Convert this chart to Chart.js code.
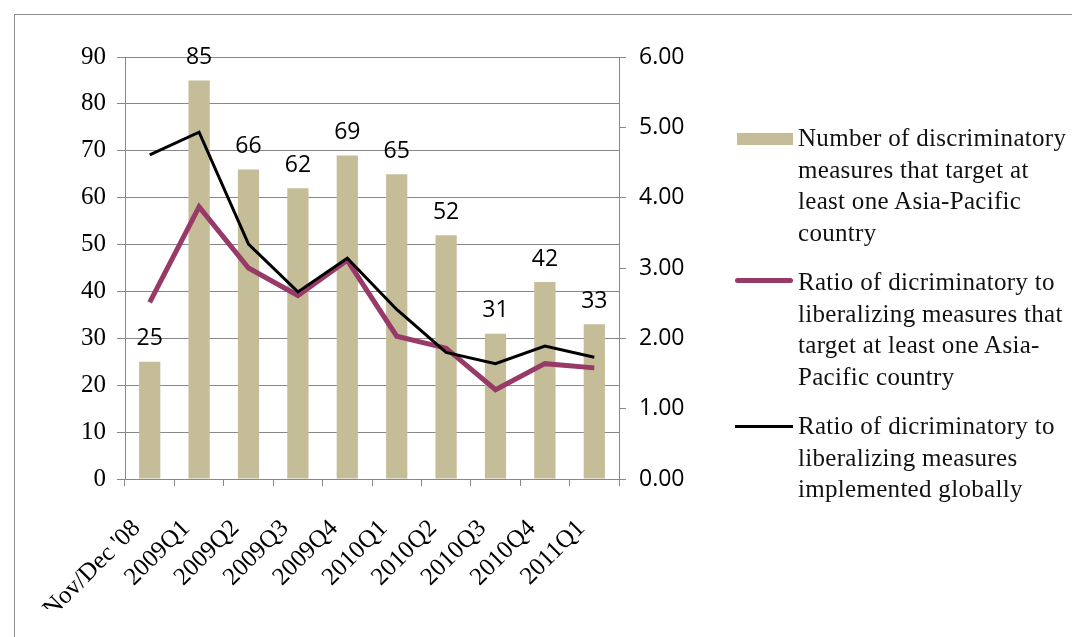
<!DOCTYPE html>
<html lang="en">
<head>
    <meta charset="UTF-8">
    <title>Discriminatory measures</title>
    <style>
        html, body { margin: 0; padding: 0; background: #fff; overflow: hidden; }
        #wrap { position: relative; width: 1072px; height: 637px; }
        #frame { position: absolute; left: 14px; top: 14px; width: 1100px; height: 700px; border: 1px solid #8c8c8c; }
        canvas { position: absolute; left: 0; top: 0; }
        .legend { position: absolute; left: 735px; top: 0; font-family: "Liberation Serif", "Times New Roman", serif; font-size: 25px; color: #111; }
        .entry { position: absolute; left: 0; width: 340px; }
        .entry .txt { position: absolute; left: 63px; line-height: 31.7px; white-space: nowrap; letter-spacing: 0.3px; }
        .entry .mark { position: absolute; left: 0; width: 58px; }
    </style>
    <script src="https://cdn.jsdelivr.net/npm/chart.js"></script>
</head>
<body>
<div id="wrap">
    <div id="frame"></div>
    <canvas id="chart" width="1072" height="637"></canvas>
    <div class="legend">
        <div class="entry" style="top:122px">
            <div class="mark" style="top:11px;height:12px;left:2px;width:56px;background:#C4BD97"></div>
            <div class="txt">Number of discriminatory<br>measures that target at<br>least one Asia-Pacific<br>country</div>
        </div>
        <div class="entry" style="top:266px">
            <div class="mark" style="top:12px;height:5px;border-radius:3px;background:#983A68"></div>
            <div class="txt">Ratio of dicriminatory to<br>liberalizing measures that<br>target at least one Asia-<br>Pacific country</div>
        </div>
        <div class="entry" style="top:410px">
            <div class="mark" style="top:15px;height:3px;background:#000"></div>
            <div class="txt">Ratio of dicriminatory to<br>liberalizing measures<br>implemented globally</div>
        </div>
    </div>
</div>
<script>
    const categories = ["Nov/Dec '08", "2009Q1", "2009Q2", "2009Q3", "2009Q4", "2010Q1", "2010Q2", "2010Q3", "2010Q4", "2011Q1"];
    const measuresCount = [25, 85, 66, 62, 69, 65, 52, 31, 42, 33];
    const ratioAsiaPacific = [2.51, 3.87, 3.00, 2.61, 3.11, 2.03, 1.86, 1.27, 1.64, 1.58];
    const ratioGlobal = [4.61, 4.93, 3.34, 2.66, 3.14, 2.41, 1.80, 1.64, 1.89, 1.73];

    const gridGrey = '#888888';

    // data labels above the bars
    const barLabels = {
        id: 'barLabels',
        afterDatasetsDraw(chart) {
            const ctx = chart.ctx;
            const meta = chart.getDatasetMeta(0);
            ctx.save();
            ctx.font = '23px "Open Sans", sans-serif';
            ctx.fillStyle = '#000';
            ctx.textAlign = 'center';
            ctx.textBaseline = 'middle';
            meta.data.forEach((bar, i) => {
                ctx.fillText(String(measuresCount[i]), bar.x, bar.y - 23);
            });
            ctx.restore();
        }
    };

    new Chart(document.getElementById('chart').getContext('2d'), {
        type: 'bar',
        data: {
            labels: categories,
            datasets: [
                {
                    type: 'bar',
                    label: 'Number of discriminatory measures that target at least one Asia-Pacific country',
                    data: measuresCount,
                    backgroundColor: '#C4BD97',
                    barPercentage: 0.43,
                    categoryPercentage: 1,
                    yAxisID: 'y',
                    order: 3
                },
                {
                    type: 'line',
                    label: 'Ratio of dicriminatory to liberalizing measures that target at least one Asia-Pacific country',
                    data: ratioAsiaPacific,
                    borderColor: '#983A68',
                    borderWidth: 5,
                    pointRadius: 0,
                    tension: 0,
                    fill: false,
                    yAxisID: 'y1',
                    order: 2
                },
                {
                    type: 'line',
                    label: 'Ratio of dicriminatory to liberalizing measures implemented globally',
                    data: ratioGlobal,
                    borderColor: '#000000',
                    borderWidth: 3,
                    pointRadius: 0,
                    tension: 0,
                    fill: false,
                    yAxisID: 'y1',
                    order: 1
                }
            ]
        },
        options: {
            responsive: false,
            animation: false,
            layout: { padding: { left: 0, top: 57, right: 373, bottom: 28 } },
            plugins: {
                legend: { display: false },
                tooltip: { enabled: false }
            },
            scales: {
                x: {
                    afterFit: s => { s.height = 130; },
                    grid: { display: true, drawOnChartArea: false, offset: true, color: gridGrey, tickLength: 7 },
                    border: { color: gridGrey },
                    ticks: {
                        color: '#000',
                        font: { family: '"Liberation Serif", serif', size: 25 },
                        minRotation: 45,
                        maxRotation: 45,
                        autoSkip: false,
                        padding: 28,
                        labelOffset: -13
                    }
                },
                y: {
                    position: 'left',
                    min: 0,
                    max: 90,
                    afterFit: s => { s.width = 125; },
                    grid: { color: gridGrey, tickLength: 8 },
                    border: { color: gridGrey },
                    ticks: {
                        stepSize: 10,
                        color: '#000',
                        padding: 11,
                        font: { family: '"Liberation Serif", serif', size: 25 }
                    }
                },
                y1: {
                    position: 'right',
                    min: 0,
                    max: 6,
                    afterFit: s => { s.width = 80; },
                    grid: { drawOnChartArea: false, color: gridGrey, tickLength: 7 },
                    border: { color: gridGrey },
                    ticks: {
                        stepSize: 1,
                        color: '#000',
                        padding: 13,
                        font: { family: '"Open Sans", sans-serif', size: 23 },
                        callback: v => v.toFixed(2)
                    }
                }
            }
        },
        plugins: [barLabels]
    });
</script>
</body>
</html>
